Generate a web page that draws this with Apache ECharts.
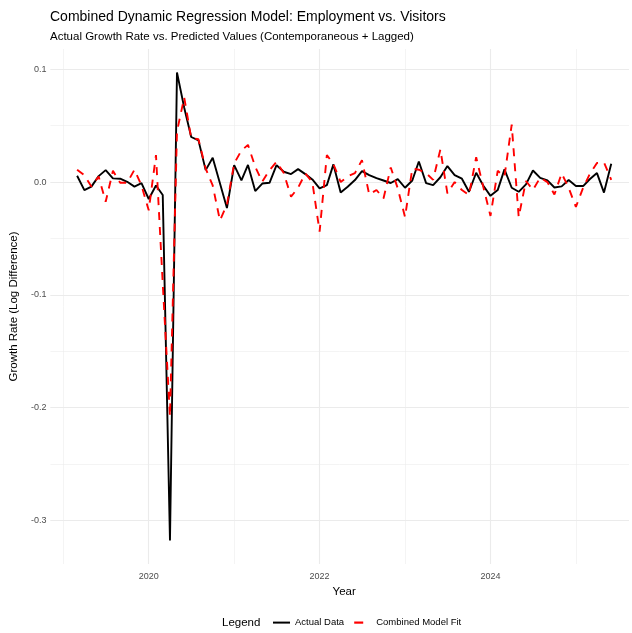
<!DOCTYPE html>
<html><head><meta charset="utf-8">
<script src="https://cdn.jsdelivr.net/npm/echarts@6/dist/echarts.min.js"></script>
<style>html,body{margin:0;padding:0;background:#fff}#c{width:632px;height:633px}</style>
</head><body><div id="c"></div>
<script>
const months = [
 '2019-03','2019-04','2019-05','2019-06','2019-07','2019-08','2019-09','2019-10','2019-11','2019-12',
 '2020-01','2020-02','2020-03','2020-04','2020-05','2020-06','2020-07','2020-08','2020-09','2020-10','2020-11','2020-12',
 '2021-01','2021-02','2021-03','2021-04','2021-05','2021-06','2021-07','2021-08','2021-09','2021-10','2021-11','2021-12',
 '2022-01','2022-02','2022-03','2022-04','2022-05','2022-06','2022-07','2022-08','2022-09','2022-10','2022-11','2022-12',
 '2023-01','2023-02','2023-03','2023-04','2023-05','2023-06','2023-07','2023-08','2023-09','2023-10','2023-11','2023-12',
 '2024-01','2024-02','2024-03','2024-04','2024-05','2024-06','2024-07','2024-08','2024-09','2024-10','2024-11','2024-12',
 '2025-01','2025-02','2025-03','2025-04','2025-05','2025-06'
];
const actual = [
 0.0056,-0.0071,-0.004,0.0053,0.0106,0.0033,0.003,0.0003,-0.004,-0.001,
 -0.015,-0.003,-0.0115,-0.318,0.0973,0.066,0.040,0.037,0.0106,0.0216,-0.001,-0.023,
 0.015,0.0015,0.0152,-0.008,-0.0013,-0.0006,0.015,0.0092,0.0071,0.0115,0.0071,0.0024,
 -0.0056,-0.0027,0.0157,-0.0092,-0.0041,0.0018,0.0098,0.0062,0.0035,0.0014,-0.0008,0.0027,
 -0.005,0.0014,0.0183,-0.0009,-0.0027,0.0043,0.0142,0.0062,0.003,-0.0086,0.0083,-0.003,
 -0.0122,-0.0071,0.0113,-0.005,-0.0086,-0.002,0.0103,0.0037,0.0015,-0.0048,-0.0038,0.0018,
 -0.0035,-0.0035,0.0025,0.008,-0.0093,0.0163
];
const modelFit = [
 0.011,0.006,-0.004,0.005,-0.0175,0.010,-0.0006,-0.0006,0.011,-0.003,
 -0.025,0.024,-0.09,-0.208,0.045,0.075,0.039,0.038,0.012,-0.003,-0.034,-0.020,
 0.0166,0.028,0.033,0.0136,0.0003,0.0106,0.018,0.008,-0.013,-0.005,0.0077,0.0,
 -0.044,0.024,0.016,0.0,0.005,0.008,0.0195,-0.011,-0.007,-0.0145,0.013,-0.0056,
 -0.031,0.012,0.011,0.008,0.002,0.029,-0.01,0.0,-0.007,-0.0115,0.022,-0.004,
 -0.030,0.010,0.005,0.051,-0.031,0.001,-0.007,0.004,0.0,-0.011,0.0077,-0.005,
 -0.022,-0.005,0.007,0.017,0.0175,0.002
];
const xTickLabels = ['2020','2022','2024'];
const yTickLabels = ['-0.3','-0.2','-0.1','0.0','0.1'];

const FONT = '"Liberation Sans", Arial, Helvetica, sans-serif';
function decYear(s){
  const [y,m] = s.split('-').map(Number);
  const a = Date.UTC(y,0,1), b = Date.UTC(y+1,0,1), t = Date.UTC(y,m-1,1);
  return y + (t-a)/(b-a);
}
const xs = months.map(decYear);
const xSpan = xs[xs.length-1]-xs[0];
const xMin = xs[0]-0.05*xSpan, xMaxFull = xs[xs.length-1]+0.05*xSpan;
// the reference panel runs past the right edge of the picture: full panel 591px, visible 582px
const xMax = xMin + (xMaxFull-xMin)*582/591;
const allY = actual.concat(modelFit);
const yLo = Math.min(...allY), yHi = Math.max(...allY), ySpan = yHi-yLo;
const yMin = yLo-0.05*ySpan, yMax = yHi+0.05*ySpan;

const grid = {left:50, right:0, top:49, bottom:69, containLabel:false};
const chart = echarts.init(document.getElementById('c'), null, {renderer:'canvas'});
const majorLine = {color:'#ebebeb', width:1.1};
const minorLine = {color:'#ebebeb', width:0.55};
chart.setOption({
  animation:false,
  backgroundColor:'#fff',
  textStyle:{fontFamily:FONT},
  title:[
    {text:'Combined Dynamic Regression Model: Employment vs. Visitors', left:50, top:10, padding:0,
     textStyle:{fontSize:14, fontWeight:'normal', color:'#000', fontFamily:FONT}},
    {text:'Actual Growth Rate vs. Predicted Values (Contemporaneous + Lagged)', left:50, top:31, padding:0,
     textStyle:{fontSize:11.5, fontWeight:'normal', color:'#000', fontFamily:FONT}},
    {text:'Legend', left:222, top:617, padding:0,
     textStyle:{fontSize:11.5, fontWeight:'normal', color:'#000', fontFamily:FONT}}
  ],
  legend:{left:272, top:617, padding:0, itemWidth:17, itemHeight:14, itemGap:9,
    itemStyle:{opacity:0},
    textStyle:{fontSize:9.5, color:'#000', fontFamily:FONT},
    data:[{name:'Actual Data'}, {name:'Combined Model Fit', lineStyle:{type:[9,9], width:2.2}}]},
  grid:grid,
  xAxis:[
    {type:'value', min:xMin, max:xMax, minInterval:1, maxInterval:1, position:'top',
     axisLine:{show:false}, axisTick:{show:false}, axisLabel:{show:false},
     splitLine:{show:true, showMinLine:false, showMaxLine:false, lineStyle:minorLine}},
    {type:'value', min:xMin, max:xMax, minInterval:2, maxInterval:2, position:'bottom',
     axisLine:{show:false}, axisTick:{show:false},
     axisLabel:{color:'#4d4d4d', fontSize:9, margin:8, fontFamily:FONT,
       formatter:v=>{const s=String(Math.round(v)); return (Math.abs(v-Math.round(v))<1e-6 && xTickLabels.includes(s))?s:'';}},
     splitLine:{show:true, showMinLine:false, showMaxLine:false, lineStyle:majorLine},
     name:'Year', nameLocation:'middle', nameGap:20,
     nameTextStyle:{fontSize:11.5, color:'#000', fontFamily:FONT, padding:[0,0,0,9]}}
  ],
  yAxis:[
    {type:'value', min:yMin, max:yMax, minInterval:0.05, maxInterval:0.05, position:'right',
     axisLine:{show:false}, axisTick:{show:false}, axisLabel:{show:false},
     splitLine:{show:true, showMinLine:false, showMaxLine:false, lineStyle:minorLine}},
    {type:'value', min:yMin, max:yMax, minInterval:0.1, maxInterval:0.1, position:'left',
     axisLine:{show:false}, axisTick:{show:false},
     axisLabel:{color:'#4d4d4d', fontSize:9, margin:4, fontFamily:FONT,
       formatter:v=>{const s=v.toFixed(1); return (Math.abs(v-Number(s))<1e-9 && yTickLabels.includes(s))?s:'';}},
     splitLine:{show:true, showMinLine:false, showMaxLine:false, lineStyle:majorLine},
     name:'Growth Rate (Log Difference)', nameLocation:'middle', nameGap:27,
     nameTextStyle:{fontSize:11.5, color:'#000', fontFamily:FONT}}
  ],
  series:[
    {name:'Actual Data', type:'line', xAxisIndex:1, yAxisIndex:1, showSymbol:false, symbol:'none',
     data:xs.map((x,i)=>[x, actual[i]]), lineStyle:{color:'#000', width:1.9}, itemStyle:{color:'#000'}, z:3},
    {name:'Combined Model Fit', type:'line', xAxisIndex:1, yAxisIndex:1, showSymbol:false, symbol:'none',
     data:xs.map((x,i)=>[x, modelFit[i]]), lineStyle:{color:'#ff0000', width:1.9, type:[8,7]}, itemStyle:{color:'#ff0000'}, z:4}
  ]
});
</script></body></html>
